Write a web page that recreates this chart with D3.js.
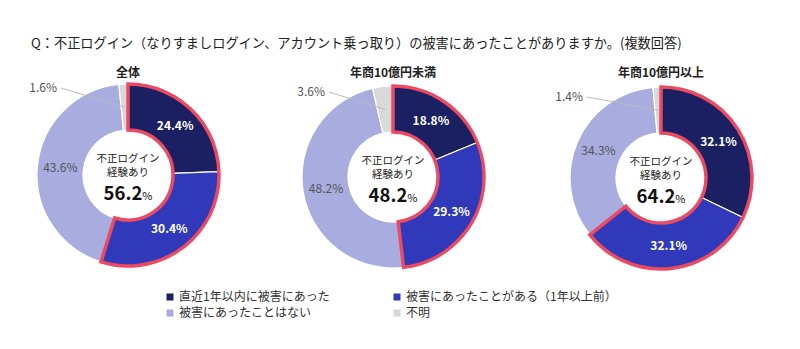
<!DOCTYPE html>
<html><head><meta charset="utf-8">
<script src="https://cdn.jsdelivr.net/npm/d3@7"></script>
<style>
html,body{margin:0;padding:0;background:#fff;}
text{font-family:"Noto Sans CJK JP","Noto Sans",sans-serif;}
</style></head>
<body><svg id="c" width="800" height="349"></svg>
<script>
const title = "Q：不正ログイン（なりすましログイン、アカウント乗っ取り）の被害にあったことがありますか。(複数回答)";
const categories = ["直近1年以内に被害にあった","被害にあったことがある（1年以上前）","被害にあったことはない","不明"];
const groups = ["全体","年商10億円未満","年商10億円以上"];
const valuesAll = [24.4, 30.4, 43.6, 1.6];
const valuesUnder = [18.8, 29.3, 48.2, 3.6];
const valuesOver = [32.1, 32.1, 34.3, 1.4];
const totals = ["56.2","48.2","64.2"];
const centerLabel = ["不正ログイン","経験あり"];

const series = [valuesAll, valuesUnder, valuesOver];
const colors = ["#1b2062","#3039b9","#a8acdf","#d9d9d9"];
const red = "#ec4a62";
const centers = [[128,175],[393,177],[661,178]];
const outerLabelPos = [[-71,-87],[-68,-85],[-78,-81]];
const rOut = 91, rIn = 45;

const svg = d3.select("#c");
svg.append("text").attr("x",31).attr("y",48).attr("font-size",13.2).attr("fill","#222").text(title);

const pie = d3.pie().sort(null).value(d=>d);
const arc = d3.arc().innerRadius(rIn).outerRadius(rOut);
const labelArc = d3.arc().innerRadius(68).outerRadius(68);

series.forEach((vals,gi)=>{
  const [cx,cy] = centers[gi];
  const g = svg.append("g").attr("transform",`translate(${cx},${cy})`);
  svg.append("text").attr("x",cx).attr("y",77).attr("text-anchor","middle")
    .attr("font-size",12).attr("font-weight","bold").attr("fill","#222").text(groups[gi]);
  const arcs = pie(vals);
  g.selectAll("path.s").data(arcs).enter().append("path").attr("class","s")
    .attr("d",arc).attr("fill",(d,i)=>colors[i]).attr("stroke","#fff").attr("stroke-width",1.2);
  const end = arcs[1].endAngle;
  g.append("path").attr("d",d3.arc().innerRadius(rIn).outerRadius(rOut).startAngle(0).endAngle(end)())
    .attr("fill","none").attr("stroke",red).attr("stroke-width",3.5).attr("stroke-linejoin","miter");
  arcs.slice(0,3).forEach((d,i)=>{
    const [lx,ly] = labelArc.centroid(d);
    g.append("text").attr("x",lx).attr("y",ly).attr("dy","0.35em").attr("text-anchor","middle")
      .attr("font-size",12).attr("font-weight",i<2?"bold":"normal")
      .attr("fill",i<2?"#fff":"#555").text(d.data.toFixed(1)+"%");
  });
  const u = arcs[3];
  const [px,py] = labelArc.centroid(u);
  const [ox,oy] = outerLabelPos[gi];
  g.append("line").attr("x1",ox+4).attr("y1",oy).attr("x2",px).attr("y2",py)
    .attr("stroke","#bbb").attr("stroke-width",1);
  g.append("text").attr("x",ox).attr("y",oy).attr("dy","0.35em").attr("text-anchor","end")
    .attr("font-size",12).attr("fill","#555").text(u.data.toFixed(1)+"%");
  g.append("text").attr("x",0).attr("y",-13).attr("text-anchor","middle").attr("font-size",10.5).attr("fill","#222").text(centerLabel[0]);
  g.append("text").attr("x",0).attr("y",1).attr("text-anchor","middle").attr("font-size",10.5).attr("fill","#222").text(centerLabel[1]);
  const t = g.append("text").attr("x",0).attr("y",25).attr("text-anchor","middle").attr("fill","#111");
  t.append("tspan").attr("font-size",18.5).attr("font-weight","bold").text(totals[gi]);
  t.append("tspan").attr("font-size",11).text("%");
});

const legPos = [[170,297],[397,297],[170,313],[397,313]];
categories.forEach((c,i)=>{
  const [x,y] = legPos[i];
  svg.append("rect").attr("x",x-3.5).attr("y",y-3.5).attr("width",7).attr("height",7).attr("fill",colors[i]);
  svg.append("text").attr("x",x+9).attr("y",y).attr("dy","0.35em").attr("font-size",12).attr("fill","#333").text(c);
});
</script></body></html>
